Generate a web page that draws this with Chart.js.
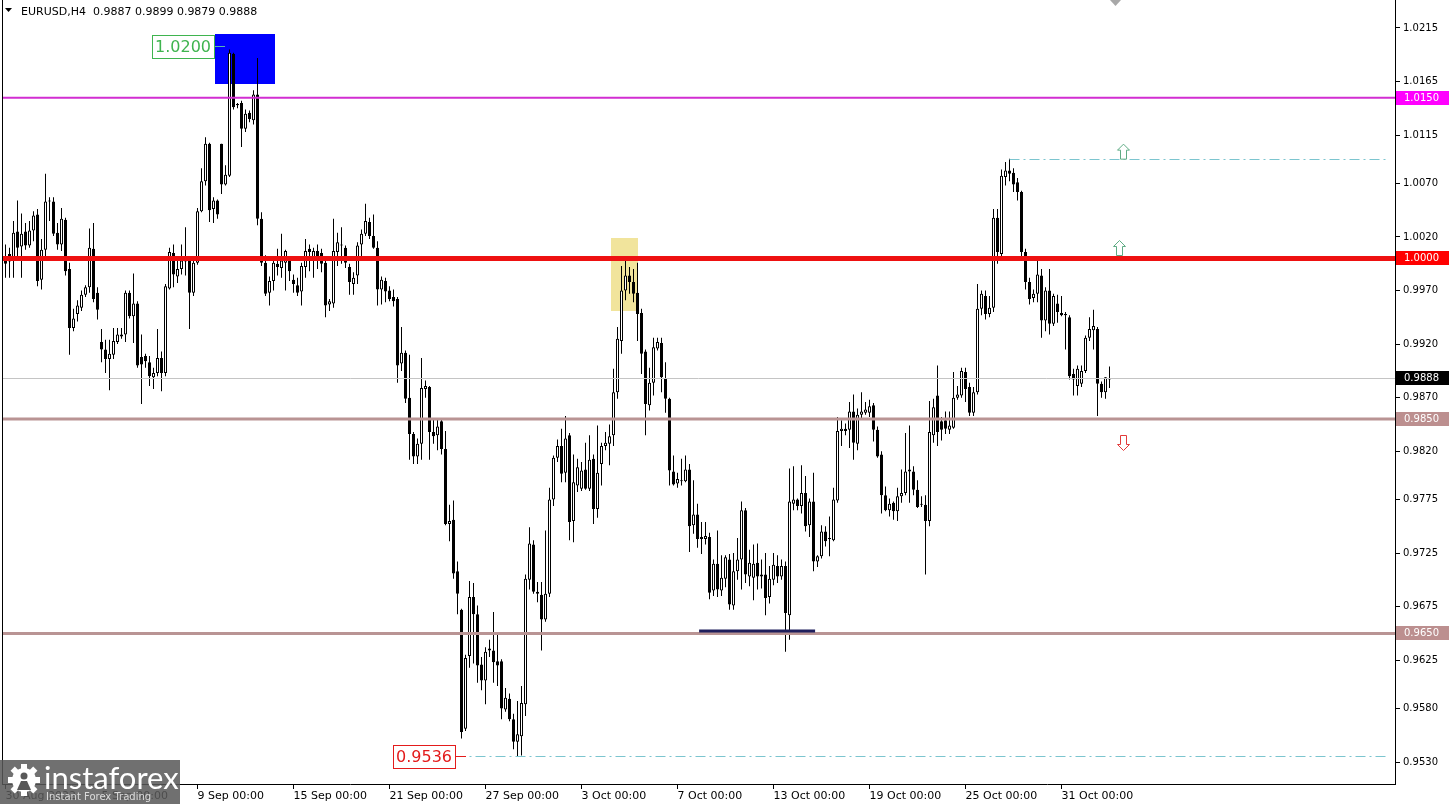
<!DOCTYPE html>
<html>
<head>
<meta charset="utf-8">
<script src="https://cdn.jsdelivr.net/npm/chart.js@4.4.0/dist/chart.umd.min.js"></script>
<style>
  html, body { margin: 0; padding: 0; background: #fff; }
  #wrap { position: relative; width: 1450px; height: 804px; }
</style>
</head>
<body>
<div id="wrap"><canvas id="chart" width="1450" height="804"></canvas></div>
<script>
// EURUSD H4 candles, 30 Aug - 2 Nov 2022
const opens = [
  1.0001,1.0004,0.9998,1.0025,1.0011,1.0025,1.0012,1.0026,1.0041,0.9980,1.0008,1.0053,
  1.0053,1.0024,1.0013,1.0036,0.9990,0.9935,0.9948,0.9954,0.9966,0.9973,1.0009,0.9968,
  0.9922,0.9915,0.9906,0.9910,0.9922,0.9927,0.9929,0.9968,0.9946,0.9958,0.9908,0.9909,
  0.9903,0.9889,0.9893,0.9907,0.9893,0.9972,1.0005,0.9983,0.9990,0.9997,1.0000,0.9968,
  0.9996,1.0044,1.0072,1.0107,1.0046,1.0054,1.0107,1.0069,1.0077,1.0191,1.0144,1.0145,
  1.0121,1.0136,1.0129,1.0153,1.0037,0.9996,0.9968,0.9979,0.9995,0.9991,0.9996,0.9998,
  0.9980,0.9975,0.9969,0.9992,1.0009,1.0000,1.0007,1.0005,0.9996,0.9957,0.9958,1.0006,
  1.0012,1.0010,0.9992,0.9976,0.9984,1.0013,1.0023,1.0034,1.0021,1.0010,0.9971,0.9979,
  0.9970,0.9964,0.9962,0.9902,0.9912,0.9870,0.9836,0.9815,0.9827,0.9878,0.9880,0.9838,
  0.9835,0.9848,0.9822,0.9752,0.9756,0.9708,0.9672,0.9561,0.9629,0.9684,0.9668,0.9621,
  0.9606,0.9636,0.9634,0.9624,0.9624,0.9579,0.9589,0.9570,0.9549,0.9554,0.9584,0.9700,
  0.9733,0.9689,0.9686,0.9663,0.9687,0.9775,0.9814,0.9825,0.9800,0.9835,0.9755,0.9788,
  0.9785,0.9803,0.9785,0.9813,0.9766,0.9808,0.9825,0.9827,0.9835,0.9875,0.9923,0.9970,
  0.9984,0.9978,0.9968,0.9949,0.9913,0.9863,0.9884,0.9916,0.9921,0.9888,0.9869,0.9801,
  0.9790,0.9793,0.9792,0.9803,0.9751,0.9761,0.9738,0.9738,0.9740,0.9690,0.9715,0.9690,
  0.9701,0.9719,0.9676,0.9708,0.9719,0.9765,0.9703,0.9702,0.9716,0.9705,0.9705,0.9684,
  0.9700,0.9713,0.9703,0.9713,0.9667,0.9771,0.9775,0.9769,0.9781,0.9751,0.9773,0.9717,
  0.9722,0.9745,0.9738,0.9737,0.9774,0.9839,0.9841,0.9840,0.9857,0.9827,0.9854,0.9856,
  0.9856,0.9863,0.9840,0.9817,0.9779,0.9765,0.9772,0.9764,0.9778,0.9781,0.9803,0.9801,
  0.9784,0.9771,0.9770,0.9755,0.9835,0.9872,0.9848,0.9849,0.9840,0.9842,0.9870,0.9872,
  0.9894,0.9880,0.9856,0.9875,0.9953,0.9965,0.9948,0.9954,1.0038,1.0004,1.0076,1.0082,
  1.0080,1.0071,1.0062,1.0006,0.9978,0.9963,0.9967,0.9984,0.9942,0.9970,0.9939,0.9958,
  0.9949,0.9948,0.9945,0.9892,0.9881,0.9883,0.9895,0.9926,0.9933,0.9934,0.9883,0.9875,0.9887
];
const highs = [
  1.0013,1.0010,1.0035,1.0054,1.0042,1.0033,1.0035,1.0044,1.0046,1.0018,1.0079,1.0057,
  1.0057,1.0033,1.0047,1.0038,0.9996,0.9953,0.9961,0.9970,0.9975,1.0028,1.0033,0.9973,
  0.9934,0.9924,0.9924,0.9935,0.9935,0.9935,0.9970,0.9970,0.9986,0.9960,0.9929,0.9911,
  0.9909,0.9898,0.9934,0.9913,0.9976,1.0010,1.0013,0.9999,1.0013,1.0029,1.0001,0.9999,
  1.0047,1.0084,1.0113,1.0108,1.0057,1.0055,1.0107,1.0087,1.0195,1.0192,1.0145,1.0147,
  1.0139,1.0138,1.0157,1.0187,1.0043,1.0003,0.9983,0.9999,1.0009,1.0023,1.0008,1.0002,
  0.9985,0.9982,0.9996,1.0018,1.0013,1.0010,1.0013,1.0009,0.9999,0.9962,1.0037,1.0024,
  1.0029,1.0012,0.9995,0.9987,1.0015,1.0027,1.0051,1.0038,1.0041,1.0016,0.9983,0.9982,
  0.9974,0.9971,0.9964,0.9936,0.9914,0.9910,0.9838,0.9832,0.9907,0.9886,0.9881,0.9851,
  0.9850,0.9850,0.9839,0.9770,0.9774,0.9717,0.9673,0.9630,0.9699,0.9697,0.9676,0.9628,
  0.9637,0.9644,0.9670,0.9651,0.9626,0.9599,0.9594,0.9575,0.9587,0.9601,0.9705,0.9749,
  0.9737,0.9698,0.9698,0.9746,0.9786,0.9816,0.9831,0.9841,0.9853,0.9837,0.9817,0.9813,
  0.9810,0.9828,0.9835,0.9817,0.9844,0.9828,0.9838,0.9845,0.9897,0.9936,0.9993,0.9998,
  0.9992,0.9990,0.9996,0.9953,0.9915,0.9898,0.9926,0.9926,0.9926,0.9903,0.9870,0.9816,
  0.9800,0.9813,0.9816,0.9808,0.9793,0.9771,0.9754,0.9754,0.9744,0.9719,0.9746,0.9723,
  0.9723,0.9724,0.9725,0.9739,0.9773,0.9767,0.9728,0.9733,0.9734,0.9719,0.9725,0.9713,
  0.9725,0.9723,0.9719,0.9717,0.9804,0.9806,0.9776,0.9807,0.9797,0.9776,0.9800,0.9723,
  0.9751,0.9750,0.9759,0.9786,0.9852,0.9849,0.9846,0.9866,0.9873,0.9860,0.9875,0.9866,
  0.9868,0.9865,0.9843,0.9820,0.9787,0.9776,0.9773,0.9786,0.9803,0.9837,0.9844,0.9806,
  0.9793,0.9778,0.9779,0.9867,0.9869,0.9900,0.9852,0.9857,0.9857,0.9894,0.9881,0.9898,
  0.9898,0.9884,0.9880,0.9976,0.9970,0.9970,0.9965,1.0046,1.0046,1.0083,1.0090,1.0093,
  1.0084,1.0075,1.0063,1.0009,0.9982,0.9971,0.9998,0.9990,0.9973,0.9990,0.9967,0.9966,
  0.9965,0.9950,0.9947,0.9897,0.9900,0.9900,0.9928,0.9945,0.9952,0.9936,0.9885,0.9889,0.9899
];
const lows = [
  0.9982,0.9982,0.9982,1.0002,0.9982,1.0008,1.0010,1.0016,0.9974,0.9971,1.0000,1.0035,
  1.0021,1.0008,1.0007,0.9984,0.9910,0.9932,0.9941,0.9951,0.9964,0.9968,0.9959,0.9943,
  0.9903,0.9893,0.9877,0.9906,0.9920,0.9925,0.9922,0.9944,0.9921,0.9898,0.9864,0.9898,
  0.9881,0.9878,0.9890,0.9876,0.9890,0.9971,0.9973,0.9977,0.9985,0.9984,0.9934,0.9965,
  0.9994,1.0043,1.0068,1.0034,1.0033,1.0037,1.0060,1.0068,1.0076,1.0139,1.0140,1.0104,
  1.0118,1.0127,1.0125,1.0031,0.9993,0.9965,0.9956,0.9970,0.9984,0.9982,0.9970,0.9979,
  0.9968,0.9965,0.9956,0.9982,0.9988,0.9982,0.9990,0.9987,0.9945,0.9951,0.9954,0.9993,
  0.9995,0.9991,0.9966,0.9966,0.9976,1.0002,1.0021,1.0018,1.0009,0.9956,0.9957,0.9959,
  0.9960,0.9955,0.9884,0.9895,0.9865,0.9812,0.9808,0.9808,0.9812,0.9870,0.9812,0.9827,
  0.9821,0.9817,0.9751,0.9736,0.9701,0.9668,0.9552,0.9559,0.9618,0.9622,0.9604,0.9597,
  0.9584,0.9628,0.9604,0.9601,0.9570,0.9577,0.9568,0.9542,0.9535,0.9536,0.9573,0.9691,
  0.9687,0.9679,0.9634,0.9661,0.9684,0.9769,0.9810,0.9791,0.9791,0.9737,0.9735,0.9782,
  0.9783,0.9784,0.9783,0.9752,0.9758,0.9788,0.9821,0.9807,0.9825,0.9869,0.9911,0.9961,
  0.9967,0.9959,0.9923,0.9892,0.9835,0.9858,0.9872,0.9914,0.9875,0.9856,0.9788,0.9788,
  0.9786,0.9788,0.9791,0.9726,0.9743,0.9730,0.9724,0.9733,0.9682,0.9685,0.9684,0.9685,
  0.9693,0.9672,0.9672,0.9700,0.9691,0.9697,0.9694,0.9681,0.9691,0.9692,0.9667,0.9678,
  0.9695,0.9697,0.9700,0.9633,0.9644,0.9765,0.9765,0.9762,0.9745,0.9740,0.9708,0.9712,
  0.9720,0.9731,0.9722,0.9736,0.9772,0.9825,0.9835,0.9823,0.9812,0.9821,0.9851,0.9854,
  0.9852,0.9829,0.9814,0.9762,0.9764,0.9759,0.9756,0.9755,0.9772,0.9779,0.9772,0.9779,
  0.9767,0.9768,0.9705,0.9750,0.9828,0.9825,0.9830,0.9836,0.9836,0.9841,0.9868,0.9870,
  0.9866,0.9853,0.9853,0.9873,0.9947,0.9943,0.9945,0.9950,0.9995,1.0002,1.0068,1.0072,
  1.0062,1.0054,0.9999,0.9971,0.9957,0.9959,0.9959,0.9926,0.9932,0.9929,0.9937,0.9940,
  0.9946,0.9915,0.9887,0.9872,0.9872,0.9880,0.9893,0.9923,0.9915,0.9853,0.9870,0.9869,0.9879
];
const closes = [
  0.9995,0.9997,1.0024,1.0010,1.0023,1.0012,1.0026,1.0040,0.9979,1.0008,1.0053,1.0054,
  1.0023,1.0013,1.0037,0.9988,0.9935,0.9944,0.9956,0.9966,0.9973,1.0010,0.9962,0.9952,
  0.9915,0.9906,0.9911,0.9923,0.9929,0.9929,0.9968,0.9946,0.9958,0.9900,0.9901,0.9904,
  0.9890,0.9893,0.9907,0.9893,0.9974,1.0006,0.9985,0.9990,0.9998,1.0001,0.9968,0.9996,
  1.0044,1.0072,1.0107,1.0045,1.0054,1.0041,1.0069,1.0078,1.0192,1.0141,1.0143,1.0121,
  1.0135,1.0130,1.0153,1.0037,0.9996,0.9967,0.9979,0.9996,0.9992,0.9998,1.0007,0.9988,
  0.9976,0.9968,0.9993,1.0007,1.0006,1.0007,0.9999,0.9995,0.9956,0.9960,1.0007,1.0015,
  1.0013,0.9996,0.9978,0.9982,1.0012,1.0023,1.0035,1.0021,1.0010,0.9971,0.9980,0.9969,
  0.9962,0.9960,0.9900,0.9912,0.9869,0.9836,0.9815,0.9827,0.9879,0.9881,0.9838,0.9834,
  0.9843,0.9822,0.9752,0.9755,0.9706,0.9687,0.9558,0.9627,0.9684,0.9668,0.9620,0.9606,
  0.9633,0.9634,0.9623,0.9620,0.9580,0.9590,0.9570,0.9549,0.9556,0.9585,0.9701,0.9734,
  0.9689,0.9687,0.9663,0.9687,0.9775,0.9814,0.9825,0.9799,0.9832,0.9754,0.9791,0.9805,
  0.9802,0.9785,0.9812,0.9766,0.9800,0.9825,0.9828,0.9834,0.9875,0.9925,0.9970,0.9984,
  0.9978,0.9967,0.9948,0.9911,0.9864,0.9884,0.9917,0.9922,0.9889,0.9869,0.9802,0.9789,
  0.9794,0.9792,0.9803,0.9750,0.9761,0.9738,0.9740,0.9741,0.9688,0.9715,0.9691,0.9702,
  0.9721,0.9677,0.9708,0.9719,0.9765,0.9705,0.9716,0.9715,0.9703,0.9703,0.9683,0.9701,
  0.9714,0.9703,0.9713,0.9669,0.9773,0.9775,0.9769,0.9781,0.9750,0.9773,0.9717,0.9722,
  0.9745,0.9736,0.9739,0.9775,0.9839,0.9841,0.9839,0.9857,0.9828,0.9854,0.9857,0.9859,
  0.9862,0.9840,0.9815,0.9779,0.9765,0.9771,0.9764,0.9778,0.9781,0.9801,0.9801,0.9784,
  0.9768,0.9770,0.9755,0.9838,0.9861,0.9838,0.9840,0.9841,0.9844,0.9870,0.9873,0.9895,
  0.9878,0.9856,0.9875,0.9953,0.9967,0.9948,0.9954,1.0038,1.0006,1.0077,1.0082,1.0079,
  1.0069,1.0062,1.0006,0.9978,0.9962,0.9967,0.9985,0.9942,0.9970,0.9939,0.9965,0.9950,
  0.9947,0.9947,0.9890,0.9887,0.9897,0.9895,0.9926,0.9934,0.9937,0.9883,0.9875,0.9889,0.9888
];

// time axis: one label every 24 bars (4 trading days)
const dateIdx = [0, 24, 48, 72, 96, 120, 144, 168, 192, 216, 240, 264];
const dateLabels = ['30 Aug 2022', '5 Sep 00:00', '9 Sep 00:00', '15 Sep 00:00', '21 Sep 00:00', '27 Sep 00:00',
  '3 Oct 00:00', '7 Oct 00:00', '13 Oct 00:00', '19 Oct 00:00', '25 Oct 00:00', '31 Oct 00:00'];
const priceTicks = [1.0215, 1.0165, 1.0115, 1.0070, 1.0020, 0.9970, 0.9920, 0.9870,
  0.9820, 0.9775, 0.9725, 0.9675, 0.9625, 0.9580, 0.9530];

// levels drawn on the chart
const levelPrices = [1.0150, 1.0000, 0.9850, 0.9650];
const levelColors = ['#d22ed2', '#ee1111', '#b99494', '#b99494'];
const levelWidths = [2, 5, 3, 3];
const lastPrice = 0.9888;
const targetPrices = [1.0093, 0.9536];   // dash-dot target lines
const targetStart = [251, 112.5];
const markHigh = 1.0200, markLow = 0.9536;

const N = closes.length;
const idx = closes.map((_, i) => i);

const wickData = idx.map(i => ({ x: i, y: [lows[i], highs[i]] }));
const bodyData = idx.map(i => ({ x: i, y: [opens[i], closes[i]] }));

function arrow(ctx, cx, cy, dir, color) {
  // hollow block arrow, dir = -1 up, 1 down
  const d = -dir;
  ctx.beginPath();
  ctx.moveTo(cx, cy - 7.5 * d);
  ctx.lineTo(cx + 6, cy - 1.5 * d);
  ctx.lineTo(cx + 3, cy - 1.5 * d);
  ctx.lineTo(cx + 3, cy + 7.5 * d);
  ctx.lineTo(cx - 3, cy + 7.5 * d);
  ctx.lineTo(cx - 3, cy - 1.5 * d);
  ctx.lineTo(cx - 6, cy - 1.5 * d);
  ctx.closePath();
  ctx.fillStyle = '#fff';
  ctx.fill();
  ctx.strokeStyle = color;
  ctx.lineWidth = 1;
  ctx.stroke();
}

const backShapes = {
  id: 'backShapes',
  beforeDatasetsDraw(chart) {
    const { ctx, scales: { x, y } } = chart;
    ctx.save();
    // blue box round the 1.0200 high
    let x0 = Math.round(x.getPixelForValue(52.4)), x1 = Math.round(x.getPixelForValue(67.4));
    let y0 = Math.round(y.getPixelForValue(1.0209)), y1 = Math.round(y.getPixelForValue(1.0163));
    ctx.fillStyle = '#0000ff';
    ctx.fillRect(x0, y0, x1 - x0, y1 - y0);
    // yellow box round the 1.0000 test
    x0 = Math.round(x.getPixelForValue(151.4)); x1 = Math.round(x.getPixelForValue(158.1));
    y0 = Math.round(y.getPixelForValue(1.0019)); y1 = Math.round(y.getPixelForValue(0.9951));
    ctx.fillStyle = '#f1e49c';
    ctx.fillRect(x0, y0, x1 - x0, y1 - y0);
    ctx.restore();
  }
};

const overlay = {
  id: 'overlay',
  afterDatasetsDraw(chart) {
    const { ctx, chartArea: ca, scales: { x, y } } = chart;
    ctx.save();
    ctx.beginPath();
    ctx.rect(ca.left, 0, ca.right - ca.left, ca.bottom);
    ctx.clip();

    // current price line
    let py = Math.round(y.getPixelForValue(lastPrice)) + 0.5;
    ctx.strokeStyle = '#c4c4c4';
    ctx.lineWidth = 1;
    ctx.beginPath(); ctx.moveTo(ca.left, py); ctx.lineTo(ca.right, py); ctx.stroke();

    // horizontal levels
    levelPrices.forEach((p, k) => {
      const yy = y.getPixelForValue(p);
      ctx.strokeStyle = levelColors[k];
      ctx.lineWidth = levelWidths[k];
      ctx.beginPath(); ctx.moveTo(ca.left, yy); ctx.lineTo(ca.right, yy); ctx.stroke();
    });

    // navy base under the October lows
    py = y.getPixelForValue(0.96522);
    ctx.strokeStyle = '#1f1f5c';
    ctx.lineWidth = 3;
    ctx.beginPath(); ctx.moveTo(x.getPixelForValue(173.4), py); ctx.lineTo(x.getPixelForValue(202.4), py); ctx.stroke();

    // dash-dot target lines
    ctx.setLineDash([10, 4, 2, 4]);
    ctx.strokeStyle = '#7cc5cf';
    ctx.lineWidth = 1;
    targetPrices.forEach((p, k) => {
      const yy = Math.round(y.getPixelForValue(p)) + 0.5;
      ctx.beginPath(); ctx.moveTo(x.getPixelForValue(targetStart[k]), yy); ctx.lineTo(ca.right - 6, yy); ctx.stroke();
    });
    ctx.setLineDash([]);

    // price tags
    ctx.font = '16px "DejaVu Sans"';
    ctx.textBaseline = 'middle';
    ctx.textAlign = 'right';
    const tag = (price, xr, color, text, link) => {
      const yy = Math.round(y.getPixelForValue(price)) + 0.5;
      const w = ctx.measureText(text).width + 6;
      ctx.fillStyle = '#fff';
      ctx.fillRect(xr - w, yy - 11, w, 23);
      ctx.strokeStyle = color;
      ctx.lineWidth = 1;
      ctx.strokeRect(Math.round(xr - w) + 0.5, yy - 11, Math.round(w), 23);
      ctx.fillStyle = color;
      ctx.fillText(text, xr - 3, yy + 1);
      ctx.strokeStyle = link;
      ctx.beginPath(); ctx.moveTo(xr + 1, yy); ctx.lineTo(xr + 11, yy); ctx.stroke();
    };
    tag(1.01985, Math.round(x.getPixelForValue(52.2)), '#3fb44f', markHigh.toFixed(4), '#58b7b0');
    tag(markLow, Math.round(x.getPixelForValue(112.4)), '#e31b1b', markLow.toFixed(4), '#e31b1b');

    // direction arrows
    arrow(ctx, Math.round(x.getPixelForValue(279.3)) + 0.5, y.getPixelForValue(1.00996), -1, '#5eab84');
    arrow(ctx, Math.round(x.getPixelForValue(278.4)) + 0.5, y.getPixelForValue(1.00097), -1, '#5eab84');
    arrow(ctx, Math.round(x.getPixelForValue(279.3)) + 0.5, y.getPixelForValue(0.98277), 1, '#e23b3b');
    ctx.restore();
  },
  afterDraw(chart) {
    const { ctx, chartArea: ca, scales: { y } } = chart;
    ctx.save();
    // window frame
    ctx.strokeStyle = '#000';
    ctx.lineWidth = 1;
    ctx.beginPath();
    ctx.moveTo(ca.left + 0.5, 0); ctx.lineTo(ca.left + 0.5, ca.bottom);
    ctx.moveTo(Math.round(ca.right) + 0.5, 0); ctx.lineTo(Math.round(ca.right) + 0.5, ca.top + 1);
    ctx.stroke();

    // coloured price badges on the axis
    const badges = [[1.0150, '#ff00ff'], [1.0000, '#ff0000'], [lastPrice, '#000000'], [0.9850, '#bc8f8f'], [0.9650, '#bc8f8f']];
    ctx.font = '10px "DejaVu Sans"';
    ctx.textAlign = 'left';
    ctx.textBaseline = 'middle';
    badges.forEach(([p, c]) => {
      const yy = Math.round(y.getPixelForValue(p));
      ctx.fillStyle = c;
      ctx.fillRect(ca.right + 1, yy - 7, 53, 14);
      ctx.fillStyle = '#fff';
      ctx.fillText(p.toFixed(4), ca.right + 9, yy + 0.5);
    });

    // header
    ctx.fillStyle = '#000';
    ctx.beginPath(); ctx.moveTo(5, 8); ctx.lineTo(12, 8); ctx.lineTo(8.5, 12); ctx.closePath(); ctx.fill();
    ctx.font = '11px "DejaVu Sans"';
    ctx.textBaseline = 'alphabetic';
    const last = N - 1;
    ctx.fillText('EURUSD,H4  ' + [opens[last], highs[last], lows[last], closes[last]].map(v => v.toFixed(4)).join(' '), 21, 15);

    // chart shift marker
    ctx.fillStyle = '#a8a8a8';
    ctx.beginPath(); ctx.moveTo(1110, 0); ctx.lineTo(1121, 0); ctx.lineTo(1115.5, 6); ctx.closePath(); ctx.fill();

    // logo
    ctx.fillStyle = 'rgba(88,88,88,0.86)';
    ctx.fillRect(0, 760, 180, 44);
    const gx = 24, gy = 780;
    ctx.fillStyle = '#fff';
    for (let k = 0; k < 8; k++) {
      const a = k * Math.PI / 4;
      ctx.save();
      ctx.translate(gx, gy); ctx.rotate(a);
      ctx.fillRect(-3, -16, 6, 6);
      ctx.restore();
    }
    ctx.beginPath(); ctx.arc(gx, gy, 12, 0, Math.PI * 2); ctx.fill();
    ctx.fillStyle = 'rgba(88,88,88,1)';
    ctx.beginPath(); ctx.arc(gx, gy - 4, 3.5, 0, Math.PI * 2); ctx.fill();
    ctx.beginPath(); ctx.moveTo(gx - 7, gy + 10); ctx.lineTo(gx - 3, gy + 1); ctx.lineTo(gx + 3, gy + 1); ctx.lineTo(gx + 7, gy + 10); ctx.closePath(); ctx.fill();
    ctx.fillStyle = '#fff';
    ctx.font = '31px Lato';
    ctx.fillText('instaforex', 44, 789);
    ctx.fillStyle = 'rgba(255,255,255,0.75)';
    ctx.font = '10px "DejaVu Sans"';
    ctx.fillText('Instant Forex Trading', 46, 800);
    ctx.restore();
  }
};

const chart = new Chart(document.getElementById('chart'), {
  type: 'bar',
  data: {
    datasets: [
      {
        label: 'wick',
        data: wickData,
        backgroundColor: '#000',
        borderWidth: 0,
        barThickness: 1,
        grouped: false,
        inflateAmount: 0,
        order: 2
      },
      {
        label: 'body',
        data: bodyData,
        backgroundColor: c => (c.dataIndex !== undefined && closes[c.dataIndex] >= opens[c.dataIndex]) ? '#ffffff' : '#000000',
        borderColor: '#000',
        borderWidth: 1,
        borderSkipped: false,
        barThickness: 3,
        minBarLength: 1,
        grouped: false,
        inflateAmount: 0,
        order: 1
      }
    ]
  },
  options: {
    responsive: false,
    animation: false,
    devicePixelRatio: 1,
    events: [],
    layout: { padding: { left: 2, top: 0, right: 0, bottom: 0 } },
    plugins: { legend: { display: false }, tooltip: { enabled: false } },
    scales: {
      x: {
        type: 'linear',
        min: -0.5,
        max: 347.5,
        offset: false,
        bounds: 'data',
        grid: { display: true, drawOnChartArea: false, drawTicks: true, tickLength: 5, color: '#000', offset: false },
        border: { display: true, color: '#000' },
        afterBuildTicks: s => { s.ticks = dateIdx.map(v => ({ value: v })); },
        afterFit: s => { s.height = 20; },
        ticks: {
          autoSkip: false,
          maxRotation: 0,
          minRotation: 0,
          align: 'start',
          padding: 1,
          color: '#000',
          font: { family: 'DejaVu Sans', size: 11 },
          callback: (v, i) => dateLabels[i]
        }
      },
      y: {
        type: 'linear',
        position: 'right',
        min: 0.9509,
        max: 1.0241,
        beginAtZero: false,
        bounds: 'data',
        grid: { display: true, drawOnChartArea: false, drawTicks: true, tickLength: 5, color: '#000' },
        border: { display: true, color: '#000' },
        afterBuildTicks: s => { s.ticks = priceTicks.map(v => ({ value: v })); },
        afterFit: s => { s.width = 55; },
        ticks: {
          padding: 3,
          color: '#000',
          font: { family: 'DejaVu Sans', size: 10 },
          callback: v => v.toFixed(4)
        }
      }
    }
  },
  plugins: [backShapes, overlay]
});

// fit the price and bar scales to the MT4 layout: 1.0215 at y=28, 0.9530 at y=762, 4 px per bar
const ca = chart.chartArea;
const pxPerPrice = (762 - 28) / (1.0215 - 0.9530);
chart.options.scales.y.max = 1.0215 + (28 - ca.top) / pxPerPrice;
chart.options.scales.y.min = 0.9530 - (ca.bottom - 762) / pxPerPrice;
chart.options.scales.x.min = (ca.left - 5.5) / 4;
chart.options.scales.x.max = (ca.right - 5.5) / 4;
chart.update('none');

if (opens.length !== N || highs.length !== N || lows.length !== N) {
  const c = document.getElementById('chart').getContext('2d');
  c.fillStyle = 'red'; c.font = '20px sans-serif';
  c.fillText('length mismatch ' + [opens.length, highs.length, lows.length, N].join(','), 400, 400);
}
</script>
</body>
</html>
